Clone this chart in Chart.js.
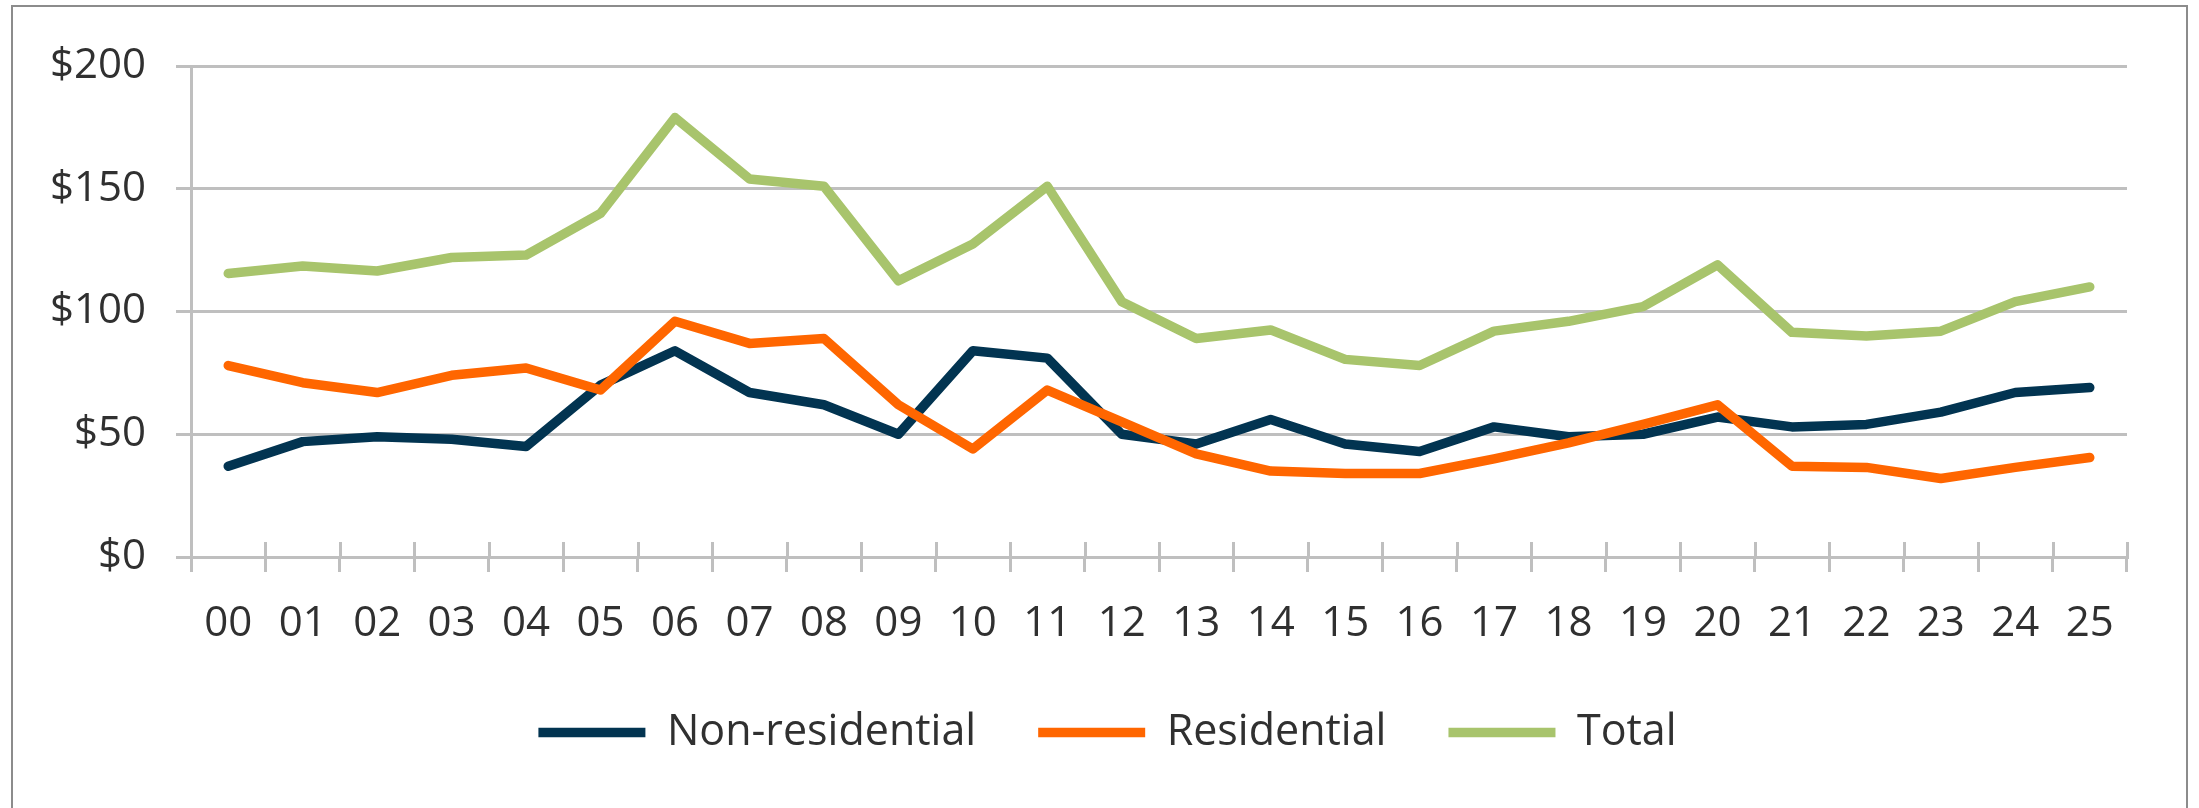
<!DOCTYPE html>
<html>
<head>
<meta charset="utf-8">
<script src="https://cdn.jsdelivr.net/npm/chart.js@4.4.1/dist/chart.umd.min.js"></script>
<style>
  html, body { margin: 0; padding: 0; background: #ffffff; overflow: hidden; }
  #wrap { position: relative; width: 2199px; height: 808px; overflow: hidden; }
  #frame { position: absolute; left: 11px; top: 5px; width: 2173px; height: 900px; border: 2px solid #8c8c8c; box-sizing: content-box; }
  #c { position: absolute; left: 0; top: 0; }
</style>
</head>
<body>
<div id="wrap">
  <div id="frame"></div>
  <canvas id="c" width="2199" height="808"></canvas>
</div>
<script>
const categories = ['00','01','02','03','04','05','06','07','08','09','10','11','12','13','14','15','16','17','18','19','20','21','22','23','24','25'];
const nonResidential = [37, 47, 49, 48, 45, 70, 84, 67, 62, 50, 84, 81, 50, 46, 56, 46, 43, 53, 49, 50, 57, 53, 54, 59, 67, 69];
const residential = [78, 71, 67, 74, 77, 68, 96, 87, 89, 62, 44, 68, 55, 42, 35, 34, 34, 40, 46.5, 54, 62, 37, 36.5, 32, 36.5, 40.5];
const total = [115.5, 118.5, 116.5, 122, 123, 140, 179, 154, 151, 112.5, 127.5, 151, 104, 89, 92.5, 80.5, 78, 92, 96, 102, 119, 91.5, 90, 92, 104, 110];
const seriesNames = ['Non-residential', 'Residential', 'Total'];
const yTicks = [0, 50, 100, 150, 200];

const GRID = '#bfbfbf';
const TEXT = '#303030';
const FONT = "'Open Sans', 'Noto Sans', sans-serif";

function lineDs(label, data, color, order) {
  return {
    label, data,
    borderColor: color, backgroundColor: color,
    borderWidth: 9.5, tension: 0, pointRadius: 0, pointHoverRadius: 0,
    borderCapStyle: 'round', borderJoinStyle: 'round', fill: false, order
  };
}

const innerTicks = {
  id: 'innerTicks',
  afterLayout(chart) {
    const lg = chart.legend;
    if (lg) { lg.left += 34; lg.right += 34; }
  },
  beforeDatasetsDraw(chart) {
    const xs = chart.scales.x;
    const ctx = chart.ctx;
    const y0 = chart.chartArea.bottom;
    const half = (xs.getPixelForValue(1) - xs.getPixelForValue(0)) / 2;
    ctx.save();
    ctx.strokeStyle = GRID;
    ctx.lineWidth = 3;
    for (let i = 0; i <= categories.length; i++) {
      const x = Math.round(xs.getPixelForValue(i) - half) + 0.5;
      ctx.beginPath();
      ctx.moveTo(x, y0 - 15);
      ctx.lineTo(x, y0);
      ctx.stroke();
    }
    ctx.restore();
  }
};

new Chart(document.getElementById('c'), {
  type: 'line',
  data: {
    labels: categories,
    datasets: [
      lineDs(seriesNames[0], nonResidential, '#023451', 3),
      lineDs(seriesNames[1], residential, '#ff6600', 2),
      lineDs(seriesNames[2], total, '#a8c46c', 1)
    ]
  },
  options: {
    responsive: false,
    devicePixelRatio: 1,
    animation: false,
    events: [],
    layout: { padding: { left: 20, right: 72, top: 66, bottom: 44 } },
    plugins: {
      tooltip: { enabled: false },
      legend: {
        position: 'bottom',
        reverse: true,
        labels: {
          usePointStyle: true,
          pointStyle: 'line',
          pointStyleWidth: 107,
          boxHeight: 43,
          padding: 62,
          color: TEXT,
          font: { family: FONT, size: 43 }
        }
      }
    },
    scales: {
      x: {
        type: 'category',
        offset: true,
        afterFit(s) { s.height = 92; },
        grid: {
          display: true, offset: true, drawOnChartArea: false, drawTicks: true,
          tickLength: 15, color: GRID, lineWidth: 3
        },
        border: { display: true, color: GRID, width: 3 },
        ticks: { color: TEXT, padding: 27, maxRotation: 0, autoSkip: false, font: { family: FONT, size: 42 } }
      },
      y: {
        min: yTicks[0], max: yTicks[yTicks.length - 1],
        afterFit(s) { s.width = 171; },
        afterBuildTicks(s) { s.ticks = yTicks.map(v => ({ value: v })); },
        grid: { color: GRID, lineWidth: 3, tickLength: 15, drawTicks: true },
        border: { display: true, color: GRID, width: 3 },
        ticks: {
          color: TEXT, padding: 30,
          font: { family: FONT, size: 42 },
          callback: (v) => '$' + v
        }
      }
    }
  },
  plugins: [innerTicks]
});
</script>
</body>
</html>
